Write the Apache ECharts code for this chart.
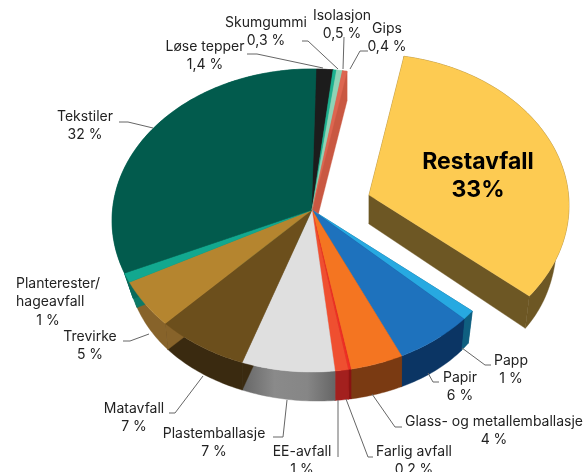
<!DOCTYPE html>
<html>
<head>
<meta charset="utf-8">
<title>Restavfall</title>
<script src="https://cdn.jsdelivr.net/npm/echarts@6/dist/echarts.min.js"></script>
<style>
  html, body { margin: 0; padding: 0; background: #fff; }
  #chart { width: 586px; height: 472px; }
</style>
</head>
<body>
<div id="chart"></div>
<script>
// clockwise from the exploded slice
const categories = ['Restavfall', 'Papp', 'Papir', 'Glass- og metallemballasje', 'Farlig avfall', 'EE-avfall',
  'Plastemballasje', 'Matavfall', 'Trevirke', 'Planterester/\nhageavfall', 'Tekstiler', 'Løse tepper',
  'Skumgummi', 'Isolasjon', 'Gips'];
const shares = [33, 1, 6, 4, 0.2, 1, 7, 7, 5, 1, 32, 1.4, 0.3, 0.5, 0.4];
const shareLabels = ['33%', '1 %', '6 %', '4 %', '0,2 %', '1 %', '7 %', '7 %', '5 %', '1 %', '32 %', '1,4 %', '0,3 %', '0,5 %', '0,4 %'];
const topColors = ['#fdcb52', '#27a9e1', '#1e72bd', '#f47521', '#ee2d24', '#ef4f30', '#dfdfdf', '#6c4f1c', '#b5852f',
  '#12a88f', '#025b4d', '#1c1c1c', '#1db08f', '#8fd3b6', '#dd6650'];
const wallColors = ['#6d5724', '#0f5f80', '#0b3564', '#7a3a12', '#8a1413', '#a3201e', '#7c7c7c', '#3a2a10', '#87632a',
  '#0b7a68', '#0a6b5c', '#1c1c1c', '#1db08f', '#8fd3b6', '#c95842'];

// label centre x, first line y, one entry per category
const labelX = [478, 511, 460, 494, 414, 302, 214, 134, 90, 60, 85, 205, 266, 342, 387];
const labelY = [162, 361, 378, 422, 452, 452, 434, 409, 337, 284, 117, 47, 23, 16, 29];
const leaders = [
  null,
  [[491, 365], [485, 365], [462, 348]],
  [[439, 382], [433, 382], [428, 373]],
  [[402, 427], [395, 427], [372, 394]],
  [[373, 457], [368, 457], [346, 399]],
  [[338, 457], [338, 400]],
  [[273, 437], [283, 437], [287, 400]],
  [[169, 413], [175, 413], [203, 376]],
  [[123, 341], [130, 341], [149, 334]],
  null,
  [[119, 122], [128, 122], [153, 128]],
  [[247, 54], [257, 54], [323, 68]],
  [[302, 41], [308, 41], [338, 69]],
  [[344, 37], [343, 69]],
  [[368, 51], [360, 51], [350, 69]]
];

// pie geometry: apex, radii, perspective, rotation, explode, extrusion
const apex = [312, 210];
const radiusX = 199.5;
const radiusY = 150.8;
const tilt = 0.0693;
const startAngle = 10.8;
const explode = [57, -15];
const depth = 29;

const total = shares.reduce((a, b) => a + b, 0);

function sliceAngles(index) {
  let before = 0;
  for (let i = 0; i < index; i++) before += shares[i];
  return [startAngle + before / total * 360, startAngle + (before + shares[index]) / total * 360];
}

function origin(index) {
  return index === 0 ? [apex[0] + explode[0], apex[1] + explode[1]] : apex;
}

function rimPoint(index, deg) {
  const o = origin(index);
  const u = Math.sin(deg * Math.PI / 180);
  const v = -Math.cos(deg * Math.PI / 180);
  const den = 1 - tilt * v;
  return [o[0] + radiusX * u / den, o[1] + radiusY * v / den];
}

// the base of the pie pulls in towards the far left and right and tilts slightly
function lower(index, p) {
  const o = origin(index);
  const dx = p[0] - o[0];
  const pull = 1 - 0.06 * Math.pow(Math.abs(dx) / radiusX, 4);
  return [o[0] + dx * pull, p[1] + depth + dx * 0.02];
}

function rim(index) {
  const [a0, a1] = sliceAngles(index);
  const steps = Math.max(2, Math.ceil(a1 - a0));
  const pts = [];
  for (let i = 0; i <= steps; i++) pts.push(rimPoint(index, a0 + (a1 - a0) * i / steps));
  return pts;
}

function poly(points, fill) {
  return {
    type: 'polygon',
    shape: { points: points },
    style: { fill: fill, stroke: fill, lineWidth: 0.4 }
  };
}

function wallFill(index) {
  if (categories[index] !== 'Plastemballasje') return wallColors[index];
  return new echarts.graphic.LinearGradient(0, 0, 1, 0, [
    { offset: 0, color: '#666666' },
    { offset: 0.35, color: '#8a8a8a' },
    { offset: 0.7, color: '#868686' },
    { offset: 1, color: '#666666' }
  ]);
}

function renderWalls(params) {
  const i = params.dataIndex;
  const o = origin(i);
  const pts = rim(i);
  const base = pts.map(p => lower(i, p));
  const first = pts[0];
  const last = pts[pts.length - 1];
  const oBase = lower(i, o);
  return {
    type: 'group',
    children: [
      poly([o, first, lower(i, first), oBase], wallColors[i]),
      poly([o, last, lower(i, last), oBase], wallColors[i]),
      poly(pts.concat(base.slice().reverse()), wallFill(i))
    ]
  };
}

function renderTops(params) {
  const i = params.dataIndex;
  return poly([origin(i)].concat(rim(i)), topColors[i]);
}

function labelElements() {
  const out = [];
  categories.forEach((name, i) => {
    if (i === 0) {
      out.push({
        type: 'text', x: labelX[i], y: labelY[i] - 14, z: 10,
        style: {
          text: name + '\n' + shareLabels[i], fill: '#000', align: 'center', verticalAlign: 'top',
          font: '700 23px Inter', lineHeight: 28
        }
      });
      return;
    }
    if (name.indexOf('\n') >= 0) {
      out.push({
        type: 'text', x: 16, y: labelY[i] - 9, z: 10,
        style: { text: name, fill: '#222', font: '14px Inter', lineHeight: 18, align: 'left', verticalAlign: 'top' }
      });
      out.push({
        type: 'text', x: 48, y: labelY[i] + 28, z: 10,
        style: { text: shareLabels[i], fill: '#222', font: '14px Inter', lineHeight: 18, align: 'center', verticalAlign: 'top' }
      });
    } else {
      out.push({
        type: 'text', x: labelX[i], y: labelY[i] - 9, z: 10,
        style: {
          text: name + '\n' + shareLabels[i], fill: '#222', font: '14px Inter', lineHeight: 18,
          align: 'center', verticalAlign: 'top'
        }
      });
    }
    if (leaders[i]) {
      out.push({
        type: 'polyline', z: 10,
        shape: { points: leaders[i] },
        style: { stroke: '#666', lineWidth: 1, fill: null }
      });
    }
  });
  return out;
}

const chart = echarts.init(document.getElementById('chart'));
chart.setOption({
  animation: false,
  backgroundColor: '#fff',
  series: [
    { type: 'custom', coordinateSystem: 'none', silent: true, z: 1, renderItem: renderWalls, data: shares },
    { type: 'custom', coordinateSystem: 'none', silent: true, z: 2, renderItem: renderTops, data: shares }
  ],
  graphic: { elements: labelElements() }
});
</script>
</body>
</html>
